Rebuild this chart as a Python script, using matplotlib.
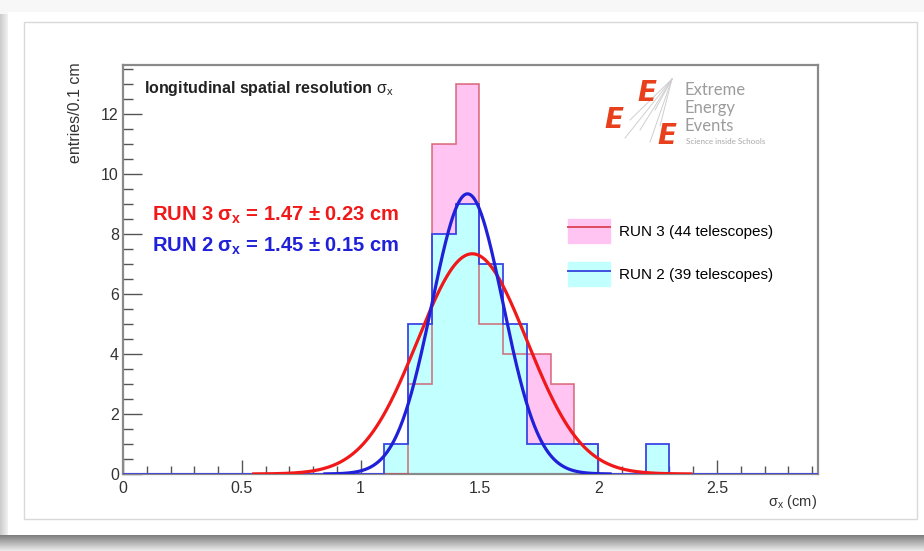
import numpy as np
import matplotlib
matplotlib.use("Agg")
import matplotlib.pyplot as plt
from matplotlib.patches import Patch, Rectangle
from matplotlib.lines import Line2D
from matplotlib.legend_handler import HandlerTuple

plt.rcParams["font.family"] = ["Liberation Sans", "DejaVu Sans"]
plt.rcParams["mathtext.fontset"] = "custom"
plt.rcParams["mathtext.rm"] = "Liberation Sans"
plt.rcParams["mathtext.it"] = "Liberation Sans:italic"
plt.rcParams["mathtext.bf"] = "Liberation Sans:bold"

# histogram bins of 0.1 cm, counts from 1.1 cm up to 2.3 cm
bin_start = 1.1
bin_width = 0.1
run3_counts = [0, 3, 11, 13, 5, 4, 4, 3, 1, 0, 0, 0]
run2_counts = [1, 5, 8, 9, 7, 5, 1, 1, 1, 0, 0, 1]

# gaussian fits (mean, sigma, amplitude)
run3_fit = (1.47, 0.23, 7.35)
run2_fit = (1.45, 0.15, 9.35)

run3_label = "RUN 3 (44 telescopes)"
run2_label = "RUN 2 (39 telescopes)"

X_MAX = 2.925
Y_MAX = 13.65

W, H = 924, 551
PINK = "#ffc4f2"
CYAN = "#c2ffff"
RED = "#f01818"
BLUE = "#2020d8"


def px(x):
    return x / W


def py(y):
    return 1 - y / H


def full_hist(counts):
    # pad with empty bins so the outline runs along the whole axis
    n_lo = int(round(bin_start / bin_width))
    n_hi = int(round(3.0 / bin_width)) - n_lo - len(counts)
    vals = np.concatenate([np.zeros(n_lo), counts, np.zeros(n_hi)])
    edges = np.round(np.arange(len(vals) + 1) * bin_width, 3)
    return vals, edges


def gauss(fit):
    mu, sig, amp = fit
    x = np.linspace(mu - 4 * sig, mu + 4 * sig, 400)
    return x, amp * np.exp(-0.5 * ((x - mu) / sig) ** 2)


fig = plt.figure(figsize=(W / 100, H / 100), dpi=100)
fig.patch.set_facecolor("white")

# page card with a soft shadow underneath
bg = fig.add_axes([0, 0, 1, 1], zorder=-5)
bg.set_axis_off()
bg.add_patch(Rectangle((0, 0), W, H, color="#f7f7f7", lw=0, zorder=0))
shade = np.linspace(0.5, 0.92, 16)[:, None] * np.ones((1, 200))
bg.imshow(np.dstack([shade] * 3), extent=(0, W, H, 535), aspect="auto",
          zorder=1)
side = np.linspace(0.8, 0.94, 8)[None, :] * np.ones((50, 1))
bg.imshow(np.dstack([side] * 3), extent=(0, 8, 535, 14), aspect="auto",
          zorder=1)
bg.add_patch(Rectangle((8, 12), W - 8, 523, color="white", lw=0, zorder=2))
bg.add_patch(Rectangle((24, 22), 893, 497, fill=False, ec="#d9d9d9", lw=1,
                       zorder=3))
bg.set_xlim(0, W)
bg.set_ylim(H, 0)

ax = fig.add_axes([px(123), py(474), px(818 - 123), (474 - 65) / H])

v3, e3 = full_hist(run3_counts)
v2, e2 = full_hist(run2_counts)
ax.stairs(v3, e3, baseline=0, fill=True, color=PINK, zorder=1)
ax.stairs(v2, e2, baseline=0, fill=True, color=CYAN, zorder=2)
ax.stairs(v3, e3, baseline=0, color="#d04a5a", lw=1.2, alpha=0.75, zorder=3)
ax.stairs(v2, e2, baseline=0, color="#3a46e6", lw=1.3, zorder=4)

gx3, gy3 = gauss(run3_fit)
gx2, gy2 = gauss(run2_fit)
ax.plot(gx3, gy3, color=RED, lw=2.3, zorder=5)
ax.plot(gx2, gy2, color=BLUE, lw=2.3, zorder=6)

ax.set_xlim(0, X_MAX)
ax.set_ylim(0, Y_MAX)
ax.set_xticks([0, 0.5, 1, 1.5, 2, 2.5])
ax.set_xticklabels(["0", "0.5", "1", "1.5", "2", "2.5"])
ax.set_xticks(np.arange(0, 2.95, 0.1), minor=True)
ax.set_yticks([0, 2, 4, 6, 8, 10, 12])
ax.set_yticks(np.arange(0, 13.6, 0.5), minor=True)
ax.tick_params(axis="both", which="both", direction="in", colors="#555555",
               labelcolor="#333333", labelsize=11.5, width=1.0)
ax.tick_params(axis="y", which="major", length=14, pad=3)
ax.tick_params(axis="y", which="minor", length=7)
ax.tick_params(axis="x", which="major", length=10, pad=5)
ax.tick_params(axis="x", which="minor", length=6)
for s in ax.spines.values():
    s.set_color("#8a8a8a")
    s.set_linewidth(1.6)

fig.text(px(75), py(62), "entries/0.1 cm", rotation=90, ha="center",
         va="top", fontsize=11.5, color="#333333")
fig.text(px(817), py(502), r"$\mathrm{\sigma_{x}}$ (cm)", ha="right",
         va="center", fontsize=10.5, color="#333333")

ax.text(0.03, 0.965, r"longitudinal spatial resolution $\mathrm{\sigma_{x}}$",
        transform=ax.transAxes, fontsize=11.5, fontweight="bold",
        color="#222222", va="top")

fig.text(px(152), py(215),
         r"RUN 3 $\mathbf{\sigma_{x}}$ = 1.47 $\mathbf{\pm}$ 0.23 cm",
         fontsize=14.5, fontweight="bold", color=RED, va="center")
fig.text(px(152), py(246),
         r"RUN 2 $\mathbf{\sigma_{x}}$ = 1.45 $\mathbf{\pm}$ 0.15 cm",
         fontsize=14.5, fontweight="bold", color=BLUE, va="center")

h3 = (Patch(color=PINK), Line2D([], [], color="#e04a60", lw=1.4))
h2 = (Patch(color=CYAN), Line2D([], [], color="#4050e0", lw=1.4))
ax.legend([h3, h2], [run3_label, run2_label],
          handler_map={tuple: HandlerTuple(ndivide=1, pad=0)},
          loc="upper left", bbox_to_anchor=(px(568), py(219)),
          bbox_transform=fig.transFigure, frameon=False, fontsize=11,
          handlelength=2.75, handleheight=2.0, labelspacing=1.3,
          handletextpad=0.6, borderpad=0, borderaxespad=0)

# EEE logo
for lx, ly in [(625, 138), (640, 130), (650, 142), (660, 126), (630, 120),
               (655, 110)]:
    fig.add_artist(Line2D([px(672), px(lx)], [py(79), py(ly)],
                          color="#cfcfcf", lw=0.7, transform=fig.transFigure))
for ex, ey in [(647, 93), (614, 120), (667, 136)]:
    fig.text(px(ex), py(ey), "E", fontsize=20, fontweight="bold",
             fontstyle="italic", color="#e8401c", ha="center", va="center",
             family="DejaVu Sans")
for ty, word in [(90, "Extreme"), (108, "Energy"), (126, "Events")]:
    fig.text(px(685), py(ty), word, fontsize=12, color="#9c9c9c",
             va="center", family="Lato")
fig.text(px(686), py(141), "Science inside Schools", fontsize=5.8,
         color="#a8a8a8", va="center", family="Lato")

fig.savefig("out.png", dpi=100)
